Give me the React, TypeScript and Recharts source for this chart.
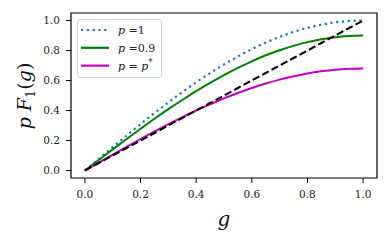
import { LineChart, Line, XAxis, YAxis, ReferenceArea, Label } from "recharts";

// g values read along the x axis
const gValues = [0, 0.05, 0.1, 0.15, 0.2, 0.25, 0.3, 0.35, 0.4, 0.45, 0.5, 0.55, 0.6, 0.65, 0.7, 0.75, 0.8, 0.85, 0.9, 0.95, 1];

// p = 1 (blue dotted)
const pOne = [0, 0.078, 0.156, 0.233, 0.309, 0.383, 0.454, 0.522, 0.588, 0.649, 0.707, 0.76, 0.809, 0.853, 0.891, 0.924, 0.951, 0.972, 0.988, 0.997, 1.0];
// p = 0.9 (green)
const pNine = [0, 0.07, 0.141, 0.21, 0.278, 0.345, 0.409, 0.47, 0.529, 0.584, 0.636, 0.684, 0.728, 0.768, 0.802, 0.831, 0.856, 0.875, 0.889, 0.897, 0.9];
// p = p* (magenta)
const pStar = [0, 0.053, 0.106, 0.158, 0.21, 0.26, 0.309, 0.355, 0.4, 0.441, 0.481, 0.517, 0.55, 0.58, 0.606, 0.628, 0.647, 0.661, 0.672, 0.678, 0.68];
// black dashed diagonal
const diagonal = [0, 0.05, 0.1, 0.15, 0.2, 0.25, 0.3, 0.35, 0.4, 0.45, 0.5, 0.55, 0.6, 0.65, 0.7, 0.75, 0.8, 0.85, 0.9, 0.95, 1];

const ticks = [0, 0.2, 0.4, 0.6, 0.8, 1.0];

const data = gValues.map((g, i) => ({
  g,
  one: pOne[i],
  nine: pNine[i],
  star: pStar[i],
  diag: diagonal[i],
}));

const FONT = "'DejaVu Serif', serif";
const tickStyle = { fill: "#222", fontSize: 10.5, fontFamily: FONT };
const DOTS = "2.2 3.6";

const legendItems = [
  { key: "one", color: "#1f77b4", dash: DOTS, label: "\u00a0=1", star: false },
  { key: "nine", color: "#008000", dash: undefined, label: "\u00a0=0.9", star: false },
  { key: "star", color: "#bf00bf", dash: undefined, label: "\u00a0=\u00a0", star: true },
];

function LegendBox() {
  return (
    <svg width={391} height={241} style={{ position: "absolute", left: 0, top: 0, pointerEvents: "none" }}>
      <rect x={77.5} y={19.5} width={84} height={58} rx={3} fill="#fff" fillOpacity={0.8} stroke="#d0d0d0" />
      {legendItems.map((item, i) => {
        const y = 30 + i * 17.8;
        return (
          <g key={item.key}>
            <line x1={81} y1={y} x2={109} y2={y} stroke={item.color} strokeWidth={2.2} strokeDasharray={item.dash} />
            <text x={118} y={y + 4} fontFamily={FONT} fontSize={11} fill="#222">
              <tspan fontStyle="italic">p</tspan>
              <tspan>{item.label}</tspan>
              {item.star && <tspan fontStyle="italic">p</tspan>}
              {item.star && <tspan fontSize={8.5} dy={-4.5}>*</tspan>}
            </text>
          </g>
        );
      })}
    </svg>
  );
}

export default function App() {
  return (
    <div style={{ position: "absolute", left: 0, top: 0, width: 391, height: 241, background: "#fff" }}>
      <LineChart width={391} height={241} data={data} margin={{ top: 13, right: 14, bottom: 0, left: 0 }}>
        <XAxis
          dataKey="g"
          type="number"
          domain={[-0.05, 1.05]}
          ticks={ticks}
          tickFormatter={(v: number) => v.toFixed(1)}
          tick={tickStyle}
          tickLine={{ stroke: "#000" }}
          tickSize={5}
          tickMargin={8}
          axisLine={false}
          height={63}
        >
          <Label
            content={() => (
              <text x={224} y={226} textAnchor="middle" fontFamily={FONT} fontStyle="italic" fontSize={20} fill="#111">
                g
              </text>
            )}
          />
        </XAxis>
        <YAxis
          type="number"
          domain={[-0.05, 1.05]}
          ticks={ticks}
          tickFormatter={(v: number) => v.toFixed(1)}
          tick={tickStyle}
          tickLine={{ stroke: "#000" }}
          tickSize={5}
          tickMargin={6}
          axisLine={false}
          width={71}
        >
          <Label
            content={() => (
              <text
                x={0}
                y={0}
                transform="translate(31 96) rotate(-90)"
                textAnchor="middle"
                fontFamily={FONT}
                fontSize={19}
                fill="#111"
              >
                <tspan fontStyle="italic">p F</tspan>
                <tspan fontSize={13} dy={4}>1</tspan>
                <tspan dy={-4}>(</tspan>
                <tspan fontStyle="italic">g</tspan>
                <tspan>)</tspan>
              </text>
            )}
          />
        </YAxis>
        <Line type="monotone" dataKey="one" stroke="#1f77b4" strokeWidth={2.2} strokeDasharray={DOTS} dot={false} isAnimationActive={false} />
        <Line type="monotone" dataKey="nine" stroke="#008000" strokeWidth={2} dot={false} isAnimationActive={false} />
        <Line type="monotone" dataKey="star" stroke="#bf00bf" strokeWidth={2} dot={false} isAnimationActive={false} />
        <Line type="linear" dataKey="diag" stroke="#000" strokeWidth={2} strokeDasharray="7.4 3.2" dot={false} isAnimationActive={false} />
        <ReferenceArea x1={-0.05} x2={1.05} y1={-0.05} y2={1.05} fill="none" stroke="#000" strokeWidth={1.2} />
      </LineChart>
      <LegendBox />
    </div>
  );
}
